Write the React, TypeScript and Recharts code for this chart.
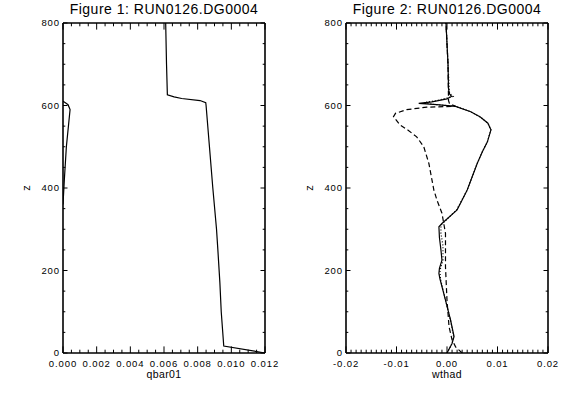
import React from 'react';
import { ScatterChart, Scatter, XAxis, YAxis } from 'recharts';

// left panel: qbar01 profile
const qbarZ = [0, 17, 100, 170, 250, 300, 400, 500, 600, 607, 612, 617, 621, 626, 700, 800];
const qbarV = [0.012, 0.00955, 0.0094, 0.00932, 0.0092, 0.00912, 0.0089, 0.0087, 0.0085, 0.00848, 0.00814, 0.00705, 0.0066, 0.0062, 0.00615, 0.0061];

const qbar2Z = [360, 420, 500, 590, 602, 607, 610];
const qbar2V = [0, 0.00008, 0.0002, 0.00042, 0.0003, 0.00012, 0];

// right panel: wthad profiles
const solidZ = [0, 23, 40, 80, 128, 180, 193, 205, 225, 250, 280, 306, 314, 347, 371, 395, 460, 488, 512, 541, 557, 572, 585, 598, 602, 605, 609, 616, 622, 628, 640, 700, 800];
const solidV = [0, 0.001, 0.0014, 0.0007, -0.0003, -0.0014, -0.0016, -0.0015, -0.001, -0.0012, -0.0015, -0.0016, -0.001, 0.002, 0.003, 0.004, 0.006, 0.007, 0.008, 0.0087, 0.0081, 0.0066, 0.0047, 0.0017, -0.002, -0.0056, -0.003, 0.0, 0.0009, 0.0005, 0.0003, 0.0002, -0.0002];

const dashZ = [0, 15, 32, 64, 128, 209, 290, 339, 371, 395, 460, 500, 524, 540, 553, 573, 581, 590, 596, 598, 604, 612, 700, 800];
const dashV = [0.003, 0.0017, 0.001, 0.0004, 0, -0.0003, -0.0003, -0.001, -0.002, -0.0026, -0.0036, -0.0046, -0.006, -0.0077, -0.0093, -0.0106, -0.0102, -0.008, -0.004, 0.0017, 0.0005, 0.0003, 0.0002, -0.0002];

const dotZ = [0, 23, 40, 80, 128, 180, 200, 225, 260, 290, 310, 347, 395, 460, 488, 512, 541, 557, 572, 585, 598, 603, 607, 612, 618, 622, 630, 700, 800];
const dotV = [0, 0.001, 0.0013, 0.0007, -0.0003, -0.0013, -0.0014, -0.0008, -0.0008, -0.0012, -0.0012, 0.0019, 0.004, 0.006, 0.007, 0.008, 0.0087, 0.0081, 0.0066, 0.0047, 0.0017, -0.003, -0.0045, -0.002, 0.0, 0.0012, 0.0005, 0.0002, -0.0002];

// axes
const zMajor = [0, 200, 400, 600, 800];
const zTicks = Array.from({ length: 17 }, (_, i) => i * 50);
const qMajor = [0, 0.002, 0.004, 0.006, 0.008, 0.01, 0.012];
const qTicks = Array.from({ length: 25 }, (_, i) => Number((i * 0.0005).toFixed(4)));
const wMajor = [-0.02, -0.01, 0, 0.01, 0.02];
const wTicks = Array.from({ length: 41 }, (_, i) => Number((-0.02 + i * 0.001).toFixed(3)));

const toPts = (zs: number[], vs: number[]) => zs.map((z, i) => ({ z, v: vs[i] }));

const FONT = '"Liberation Sans", Arial, Helvetica, sans-serif';
const AXW = 1.6;

type Side = 'bottom' | 'top' | 'left' | 'right';

function makeTick(side: Side, majors: number[], fmt: ((v: number) => string) | null, majorLen: number, minorLen: number) {
  return (props: any) => {
    const { x, y, payload } = props;
    const v = payload.value as number;
    const isMajor = majors.some((m) => Math.abs(m - v) < 1e-9);
    const len = isMajor ? majorLen : minorLen;
    let x2 = x;
    let y2 = y;
    if (side === 'bottom') y2 = y - len;
    if (side === 'top') y2 = y + len;
    if (side === 'left') x2 = x + len;
    if (side === 'right') x2 = x - len;
    return (
      <g>
        <line x1={x} y1={y} x2={x2} y2={y2} stroke="#000" strokeWidth={1} />
        {isMajor && fmt && side === 'bottom' && (
          <text x={x} y={y + 13.5} textAnchor="middle" fontSize={9.5} letterSpacing={0.9} fontFamily={FONT} fill="#000">
            {fmt(v)}
          </text>
        )}
        {isMajor && fmt && side === 'left' && (
          <text x={x - 3} y={y + 3} textAnchor="end" fontSize={9.5} letterSpacing={0.9} fontFamily={FONT} fill="#000">
            {fmt(v)}
          </text>
        )}
      </g>
    );
  };
}

const noDot = () => <g />;

interface PanelProps {
  left: number;
  xDomain: [number, number];
  xTicks: number[];
  xMajor: number[];
  xFmt: (v: number) => string;
  title: string;
  xLabel: string;
  children: React.ReactNode;
}

const Panel: React.FC<PanelProps> = ({ left, xDomain, xTicks, xMajor, xFmt, title, xLabel, children }) => {
  const W = 283;
  const H = 396;
  // plot box: x 63..265, y 23..353 (axes take 1px each side)
  const m = { top: 22, right: 17, bottom: 42, left: 62 };
  const cx = 63 + (W - 63 - 18) / 2;
  return (
    <div style={{ position: 'absolute', left, top: 0, width: W, height: H }}>
      <ScatterChart width={W} height={H} margin={m}>
        <XAxis
          type="number"
          dataKey="v"
          domain={xDomain}
          ticks={xTicks}
          interval={0}
          allowDataOverflow
          height={1}
          tickSize={0}
          tickMargin={0}
          tickLine={false}
          axisLine={{ stroke: '#000', strokeWidth: AXW }}
          tick={makeTick('bottom', xMajor, xFmt, 6.6, 3.3)}
        />
        <XAxis
          xAxisId="top"
          orientation="top"
          type="number"
          dataKey="v"
          domain={xDomain}
          ticks={xTicks}
          interval={0}
          allowDataOverflow
          height={1}
          tickSize={0}
          tickMargin={0}
          tickLine={false}
          axisLine={{ stroke: '#000', strokeWidth: AXW }}
          tick={makeTick('top', xMajor, null, 6.6, 3.3)}
        />
        <YAxis
          type="number"
          dataKey="z"
          domain={[0, 800]}
          ticks={zTicks}
          interval={0}
          allowDataOverflow
          width={1}
          tickSize={0}
          tickMargin={0}
          tickLine={false}
          axisLine={{ stroke: '#000', strokeWidth: AXW }}
          tick={makeTick('left', zMajor, (v) => String(v), 4.5, 2.3)}
        />
        <YAxis
          yAxisId="right"
          orientation="right"
          type="number"
          dataKey="z"
          domain={[0, 800]}
          ticks={zTicks}
          interval={0}
          allowDataOverflow
          width={1}
          tickSize={0}
          tickMargin={0}
          tickLine={false}
          axisLine={{ stroke: '#000', strokeWidth: AXW }}
          tick={makeTick('right', zMajor, null, 4.5, 2.3)}
        />
        {children}
      </ScatterChart>
      <svg width={W} height={H} style={{ position: 'absolute', left: 0, top: 0, pointerEvents: 'none' }}>
        <text x={cx} y={14} textAnchor="middle" fontSize={14} letterSpacing={0.5} fontFamily={FONT} fill="#000">
          {title}
        </text>
        <text x={cx} y={378} textAnchor="middle" fontSize={10.5} letterSpacing={0.4} fontFamily={FONT} fill="#000">
          {xLabel}
        </text>
        <text x={30} y={188} textAnchor="middle" fontSize={11} fontFamily={FONT} fill="#000" transform="rotate(-90 30 188)">
          z
        </text>
      </svg>
    </div>
  );
};

const lineStyle = (dash?: string) => ({ stroke: '#000', strokeWidth: 1.2, strokeDasharray: dash });

export default function App() {
  return (
    <div style={{ position: 'absolute', left: 0, top: 0, width: 566, height: 396, background: '#fff' }}>
      <Panel
        left={0}
        xDomain={[0, 0.012]}
        xTicks={qTicks}
        xMajor={qMajor}
        xFmt={(v) => v.toFixed(3)}
        title="Figure 1: RUN0126.DG0004"
        xLabel="qbar01"
      >
        <Scatter data={toPts(qbarZ, qbarV)} fill="#000" line={lineStyle()} shape={noDot} isAnimationActive={false} />
        <Scatter data={toPts(qbar2Z, qbar2V)} fill="#000" line={lineStyle()} shape={noDot} isAnimationActive={false} />
      </Panel>
      <Panel
        left={283}
        xDomain={[-0.02, 0.02]}
        xTicks={wTicks}
        xMajor={wMajor}
        xFmt={(v) => v.toFixed(2)}
        title="Figure 2: RUN0126.DG0004"
        xLabel="wthad"
      >
        <Scatter data={toPts(dotZ, dotV)} fill="#000" line={lineStyle('1 2')} shape={noDot} isAnimationActive={false} />
        <Scatter data={toPts(dashZ, dashV)} fill="#000" line={lineStyle('5 3')} shape={noDot} isAnimationActive={false} />
        <Scatter data={toPts(solidZ, solidV)} fill="#000" line={lineStyle()} shape={noDot} isAnimationActive={false} />
      </Panel>
    </div>
  );
}
